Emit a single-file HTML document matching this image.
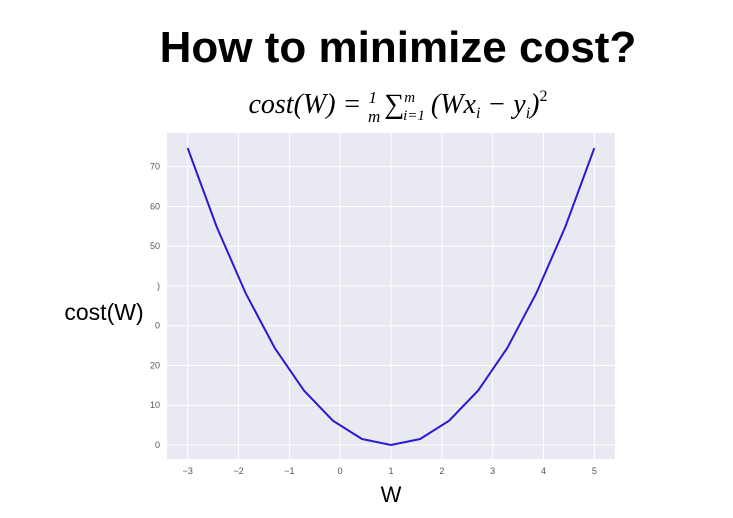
<!DOCTYPE html>
<html><head><meta charset="utf-8"><style>
html,body{margin:0;padding:0;background:#fff;}
svg{display:block;}
</style></head><body>
<svg id="chart" width="733" height="518" xmlns="http://www.w3.org/2000/svg">
<text x="398" y="62" text-anchor="middle" font-family="Liberation Sans, sans-serif" font-weight="bold" font-size="44" fill="#000">How to minimize cost?</text>
<text x="398" y="113" text-anchor="middle" font-family="Liberation Serif, serif" font-style="italic" font-size="28" fill="#000">cost(W) = <tspan font-size="17" dy="-10">1</tspan><tspan font-size="17" dx="-9" dy="19">m</tspan><tspan font-style="normal" dx="4" dy="-9" font-size="28">∑</tspan><tspan font-size="15" dy="-11">m</tspan><tspan font-size="15" dx="-12" dy="18">i=1</tspan><tspan dx="6" dy="-7">(Wx</tspan><tspan font-size="16" dy="5">i</tspan><tspan dy="-5"> − y</tspan><tspan font-size="16" dy="5">i</tspan><tspan dy="-5">)</tspan><tspan font-size="16" font-style="normal" dy="-12">2</tspan></text>
<rect x="167" y="133" width="448" height="326" fill="#e8e9f1"/>
<g id="grid"></g>
<g id="ticks" font-family="Liberation Sans, sans-serif" font-size="9" fill="#555"></g>
<path id="line" fill="none" stroke="#2a1bd0" stroke-width="2"/>
<text x="104" y="320" text-anchor="middle" font-family="Liberation Sans, sans-serif" font-size="23" fill="#000">cost(W)</text>
<text x="391" y="502" text-anchor="middle" font-family="Liberation Sans, sans-serif" font-size="22" fill="#000">W</text>
</svg>
<script>
const wValues=[-3,-2.4286,-1.8571,-1.2857,-0.7143,-0.1429,0.4286,1,1.5714,2.1429,2.7143,3.2857,3.8571,4.4286,5];
const costValues=[74.67,54.86,38.10,24.38,13.71,6.10,1.52,0,1.52,6.10,13.71,24.38,38.10,54.86,74.67];
const xTicks=[-3,-2,-1,0,1,2,3,4,5];
const xTickLabels=["−3","−2","−1","0","1","2","3","4","5"];
const yTicks=[0,10,20,30,40,50,60,70];
const yTickLabels=["0","10","20","0",")","50","60","70"];
const ns="http://www.w3.org/2000/svg";
function xs(v){return 187.7+(v+3)*50.83;}
function ys(v){return 445-v*3.976;}
const grid=document.getElementById('grid'),ticks=document.getElementById('ticks');
xTicks.forEach((t,i)=>{
 const l=document.createElementNS(ns,'line');
 l.setAttribute('x1',xs(t));l.setAttribute('x2',xs(t));l.setAttribute('y1',133);l.setAttribute('y2',459);
 l.setAttribute('stroke','#fff');l.setAttribute('stroke-width','1');
 
 
 grid.appendChild(l);
 const tx=document.createElementNS(ns,'text');
 tx.setAttribute('x',xs(t));tx.setAttribute('y',474);tx.setAttribute('text-anchor','middle');
 tx.textContent=xTickLabels[i];
 
 
 ticks.appendChild(tx);
});
yTicks.forEach((t,i)=>{
 const l=document.createElementNS(ns,'line');
 l.setAttribute('x1',167);l.setAttribute('x2',615);l.setAttribute('y1',ys(t));l.setAttribute('y2',ys(t));
 l.setAttribute('stroke','#fff');l.setAttribute('stroke-width','1');
 
 
 grid.appendChild(l);
 const tx=document.createElementNS(ns,'text');
 tx.setAttribute('x',160);tx.setAttribute('y',ys(t)+3);tx.setAttribute('text-anchor','end');
 tx.textContent=yTickLabels[i];
 
 
 ticks.appendChild(tx);
});
document.getElementById('line').setAttribute('d',wValues.map((w,i)=>(i?'L':'M')+xs(w).toFixed(1)+' '+ys(costValues[i]).toFixed(1)).join(' '));
</script>
</body></html>
